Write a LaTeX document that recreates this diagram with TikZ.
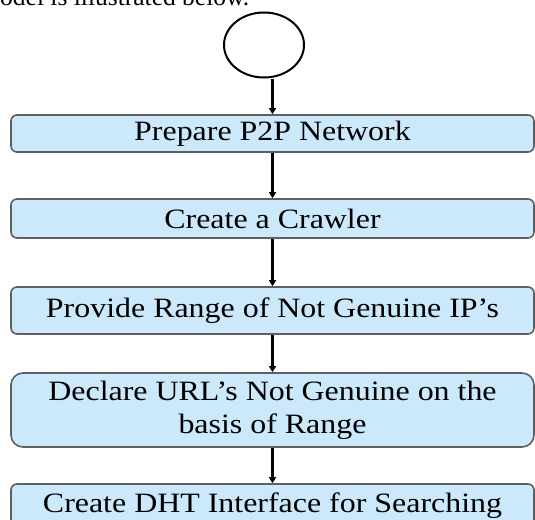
\documentclass[tikz,border=0pt]{standalone}
\usepackage{fontspec}
\setmainfont{Liberation Serif}[FakeStretch=1.14]
\newfontfamily\plainserif{Liberation Serif}
\usetikzlibrary{arrows.meta,shapes.geometric}
\definecolor{boxfill}{RGB}{204,233,252}
\definecolor{boxline}{RGB}{95,95,95}
\tikzset{
  stepbox/.style={draw=boxline, line width=1.6pt, fill=boxfill, rounded corners=6pt,
    minimum width=523pt, inner sep=0pt, align=center,
    font=\fontsize{28}{33}\selectfont},
  flow/.style={draw=black, line width=2.4pt, -{Triangle[width=7pt,length=6pt]}},
}
\begin{document}
\begin{tikzpicture}[x=1pt,y=-1pt]
\useasboundingbox (0,0) rectangle (535,519);
\clip (0,0) rectangle (535,519);
\node[anchor=base west, font=\plainserif\fontsize{25.5}{30}\selectfont, inner sep=0pt] (intro) at (0,6) {odel is illustrated below.};
\node[ellipse, draw=black, line width=2pt, minimum width=80pt, minimum height=65pt, inner sep=0pt] (start) at (264,45) {};
\node[stepbox, minimum height=37pt] (b1) at (272.5,133.5) {Prepare P2P Network};
\node[stepbox, minimum height=39pt] (b2) at (272.5,218.5) {Create a Crawler};
\node[stepbox, minimum height=47pt] (b3) at (272.5,310.5) {Provide Range of Not Genuine IP’s};
\node[stepbox, minimum height=74pt, rounded corners=12pt] (b4) at (272.5,410) {Declare URL’s Not Genuine on the\\basis of Range};
\node[stepbox, minimum height=44pt] (b5) at (272.5,506) {Create DHT Interface for Searching};
\draw[flow] (start.south -| b1.north) -- (b1.north);
\draw[flow] (b1) -- (b2);
\draw[flow] (b2) -- (b3);
\draw[flow] (b3) -- (b4);
\draw[flow] (b4) -- (b5);
\end{tikzpicture}
\end{document}
